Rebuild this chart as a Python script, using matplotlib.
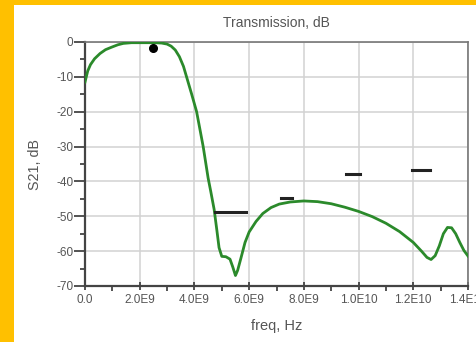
import matplotlib
matplotlib.use("Agg")
import matplotlib.pyplot as plt
from matplotlib.patches import Rectangle
from matplotlib.ticker import MultipleLocator

# S21 curve (Hz, dB)
freq_ghz = [0.0, 0.1, 0.2, 0.35, 0.55, 0.75, 1.0, 1.2, 1.4, 1.7, 2.0, 2.5,
            2.8, 3.0, 3.15, 3.3, 3.45, 3.6, 3.75, 3.9, 4.08, 4.2, 4.32, 4.42,
            4.5, 4.6, 4.72, 4.82, 4.9, 5.0, 5.15, 5.3, 5.4, 5.5, 5.58, 5.7,
            5.85, 6.0, 6.25, 6.5, 6.8, 7.1, 7.5, 8.0, 8.5, 9.0, 9.5, 10.0,
            10.5, 11.0, 11.5, 12.0, 12.3, 12.5, 12.65, 12.8, 12.95, 13.1,
            13.25, 13.4, 13.55, 13.7, 13.85, 14.0]
s21_db = [-11.5, -8.3, -6.5, -4.8, -3.3, -2.2, -1.4, -0.8, -0.4, -0.2, -0.2,
          -0.2, -0.3, -0.6, -1.2, -2.3, -4.2, -7.0, -11.0, -15.0, -20.0, -25.0,
          -30.0, -35.0, -39.0, -43.0, -48.0, -54.0, -59.0, -61.5, -61.6, -62.3,
          -64.5, -67.0, -65.5, -62.0, -57.5, -54.5, -51.5, -49.2, -47.5, -46.5,
          -45.9, -45.6, -45.8, -46.4, -47.4, -48.6, -50.1, -52.0, -54.4, -57.5,
          -60.0, -61.8, -62.4, -61.3, -58.5, -55.0, -53.2, -53.3, -55.0, -57.5,
          -59.8, -61.4]

# marker and spec limit segments
marker_ghz = 2.48
marker_db = -1.6
spec_start_ghz = [4.75, 7.15, 9.55, 11.95]
spec_stop_ghz = [5.9, 7.55, 10.05, 12.6]
spec_db = [-48.8, -44.8, -37.8, -36.7]

xtick_vals = [0, 2e9, 4e9, 6e9, 8e9, 1e10, 1.2e10, 1.4e10]
xtick_labels = ["0.0", "2.0E9", "4.0E9", "6.0E9", "8.0E9", "1.0E10", "1.2E10", "1.4E10"]
ytick_vals = [0, -10, -20, -30, -40, -50, -60, -70]
ytick_labels = ["0", "-10", "-20", "-30", "-40", "-50", "-60", "-70"]

plt.rcParams["font.family"] = ["Liberation Sans", "DejaVu Sans"]
txt_color = "#555555"

fig = plt.figure(figsize=(4.76, 3.42), dpi=100, facecolor="#FFC000")
fig.patches.append(Rectangle((14 / 476, 0), 1, 1 - 5 / 342, transform=fig.transFigure,
                             facecolor="white", edgecolor="none", zorder=-10))
ax = fig.add_axes([85 / 476, 1 - 286 / 342, 383 / 476, 244 / 342])
ax.set_facecolor("white")

ax.plot([f * 1e9 for f in freq_ghz], s21_db, color="#2b8a2b", lw=2.0,
        solid_joinstyle="round", zorder=3)
for x0, x1, y in zip(spec_start_ghz, spec_stop_ghz, spec_db):
    ax.plot([x0 * 1e9, x1 * 1e9], [y, y], color="#222222", lw=2.2, zorder=4)
ax.plot(marker_ghz * 1e9, marker_db, "o", color="black", ms=5.5, zorder=5)

ax.set_xlim(0, 1.4e10)
ax.set_ylim(-70, 0)
ax.set_xticks(xtick_vals, labels=xtick_labels)
ax.set_yticks(ytick_vals, labels=ytick_labels)
ax.xaxis.set_minor_locator(MultipleLocator(1e9))
ax.yaxis.set_minor_locator(MultipleLocator(5))
ax.tick_params(axis="x", which="major", direction="inout", length=6, width=1.3,
               color="#444444", labelsize=8.5, labelcolor=txt_color, pad=3)
ax.tick_params(axis="x", which="minor", direction="out", length=3.5, width=1.3,
               color="#444444")
ax.tick_params(axis="y", which="major", direction="out", length=8, width=1.3,
               color="#444444", labelsize=8.5, labelcolor=txt_color, pad=0.5)
ax.tick_params(axis="y", which="minor", direction="out", length=3.5, width=1.3,
               color="#444444")

ax.grid(which="major", color="#d2d2d2", lw=1.1)
ax.set_axisbelow(True)
for side in ["left", "bottom"]:
    ax.spines[side].set_color("#444444")
    ax.spines[side].set_linewidth(1.6)
for side in ["top", "right"]:
    ax.spines[side].set_color("#777777")
    ax.spines[side].set_linewidth(1.2)

ax.set_title("Transmission, dB", fontsize=10, color=txt_color, pad=11)
ax.set_xlabel("freq, Hz", fontsize=10.5, color=txt_color, labelpad=9)
ax.set_ylabel("S21, dB", fontsize=10.3, color=txt_color, labelpad=10)

fig.savefig("out.png", dpi=100, facecolor=fig.get_facecolor())
